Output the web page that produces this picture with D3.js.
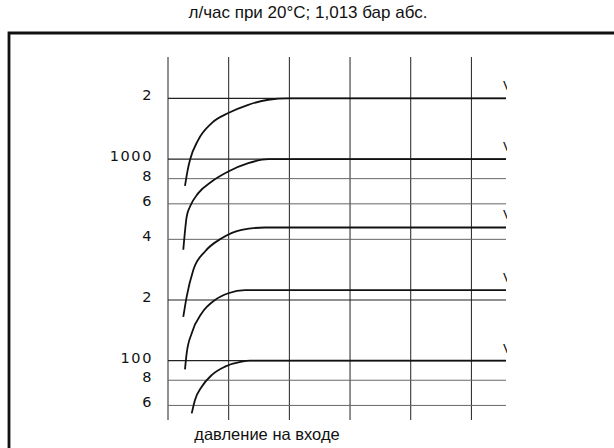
<!DOCTYPE html>
<html lang="ru">
<head>
  <meta charset="UTF-8">
  <title>л/час при 20°C</title>
  <script src="https://d3js.org/d3.v7.min.js"></script>
  <style>
    body { margin: 0; background: #fff; }
    svg { display: block; }
  </style>
</head>
<body>
  <svg id="chart" width="614" height="448"></svg>

  <script>
    // flow ticks (log axis) and their printed labels
    const yTicks = [60, 80, 100, 200, 400, 600, 800, 1000, 2000];
    const yLabels = ["6", "8", "100", "2", "4", "6", "8", "1000", "2"];
    const majorTicks = [100, 200, 1000, 2000];
    // vertical grid positions, inlet pressure (unlabelled units)
    const xTicks = [0, 1, 2, 3, 4, 5];

    // curves: [pressure, flow]
    const curve2000 = [[0.28, 737], [0.325, 885], [0.363, 992], [0.499, 1247], [0.72, 1509],
      [0.994, 1692], [1.323, 1860], [1.653, 1970], [1.983, 2000], [5.57, 2000]];
    const curve1000 = [[0.252, 355], [0.308, 519], [0.363, 582], [0.499, 678], [0.72, 774],
      [0.994, 868], [1.323, 955], [1.653, 1000], [5.57, 1000]];
    const curve458 = [[0.252, 165], [0.308, 208], [0.417, 282], [0.61, 348], [0.885, 405],
      [1.214, 446], [1.598, 458], [5.57, 458]];
    const curve224 = [[0.28, 90.6], [0.308, 109], [0.391, 137], [0.556, 172], [0.775, 200],
      [0.994, 216], [1.269, 224], [5.57, 224]];
    const curve100 = [[0.391, 54.8], [0.445, 63.8], [0.556, 74.3], [0.72, 84.9], [0.939, 93.4],
      [1.214, 99], [1.351, 100], [5.57, 100]];
    const curves = [curve2000, curve1000, curve458, curve224, curve100];
    const curveLabels = ["V", "V", "V", "V", "V"];

    const svg = d3.select("#chart");

    const x = d3.scaleLinear().domain([0, 5.57]).range([168, 506]);
    const y = d3.scaleLog().domain([50.8, 3210]).range([420, 57]);

    // title
    svg.append("text")
      .attr("x", 308).attr("y", 18)
      .attr("text-anchor", "middle")
      .style("font-family", "Liberation Sans, Arial, sans-serif")
      .style("font-size", "17px")
      .attr("fill", "#111")
      .text("л/час при 20°C; 1,013 бар абс.");

    // frame
    svg.append("path")
      .attr("d", "M9,452 L9,33 L620,33")
      .attr("fill", "none")
      .attr("stroke", "#111")
      .attr("stroke-width", 2.8);

    // vertical grid
    svg.append("g")
      .selectAll("line")
      .data(xTicks)
      .join("line")
      .attr("x1", d => x(d)).attr("x2", d => x(d))
      .attr("y1", y.range()[1]).attr("y2", y.range()[0])
      .attr("stroke", "#222")
      .attr("stroke-width", 1);

    // horizontal grid
    svg.append("g")
      .selectAll("line")
      .data(yTicks)
      .join("line")
      .attr("x1", x(0)).attr("x2", x.range()[1])
      .attr("y1", d => y(d)).attr("y2", d => y(d))
      .attr("stroke", d => majorTicks.includes(d) ? "#222" : "#666")
      .attr("stroke-width", d => majorTicks.includes(d) ? 1.2 : 1);

    // tick labels
    svg.append("g")
      .selectAll("text")
      .data(yTicks)
      .join("text")
      .attr("x", 153)
      .attr("y", d => y(d) + 2)
      .attr("text-anchor", "end")
      .style("font-family", "DejaVu Sans, sans-serif")
      .style("font-size", "14.5px")
      .style("letter-spacing", "1.6px")
      .attr("fill", "#111")
      .text((d, i) => yLabels[i]);

    // curves
    const line = d3.line()
      .x(d => x(d[0]))
      .y(d => y(d[1]))
      .curve(d3.curveMonotoneX);

    svg.append("g")
      .selectAll("path")
      .data(curves)
      .join("path")
      .attr("d", line)
      .attr("fill", "none")
      .attr("stroke", "#111")
      .attr("stroke-width", 1.8);

    // curve labels, cut off at the right edge like in the scan
    svg.append("clipPath").attr("id", "cut")
      .append("rect").attr("x", 0).attr("y", 0).attr("width", 507).attr("height", 448);

    svg.append("g")
      .attr("clip-path", "url(#cut)")
      .selectAll("text")
      .data(curves)
      .join("text")
      .attr("x", 503)
      .attr("y", d => y(d[d.length - 1][1]) - 8)
      .style("font-family", "DejaVu Sans, sans-serif")
      .style("font-size", "13px")
      .attr("fill", "#111")
      .text((d, i) => curveLabels[i]);

    // x axis title
    svg.append("text")
      .attr("x", 267).attr("y", 440)
      .attr("text-anchor", "middle")
      .style("font-family", "Liberation Sans, Arial, sans-serif")
      .style("font-size", "16.5px")
      .attr("fill", "#111")
      .text("давление на входе");
  </script>
</body>
</html>
